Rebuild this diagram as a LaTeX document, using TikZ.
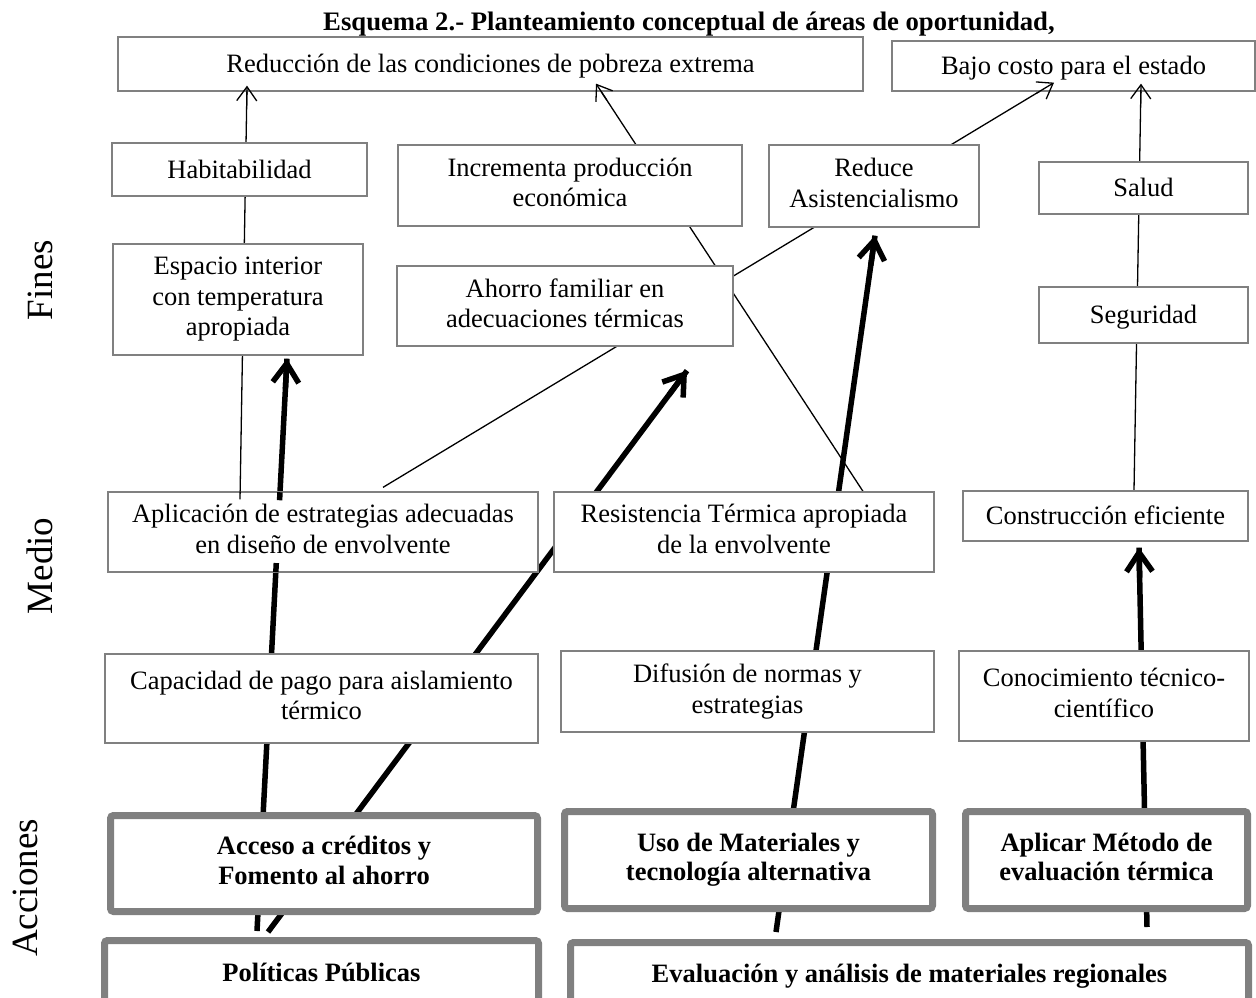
\documentclass[tikz,border=0pt]{standalone}
\usepackage{fontspec}
\setmainfont{Liberation Serif}
\usetikzlibrary{arrows.meta,calc}
\pgfdeclarelayer{bg}
\pgfsetlayers{bg,main}
\definecolor{bordergray}{RGB}{128,128,128}
\tikzset{
 strutted/.style={execute at begin node={\rule{0pt}{23pt}}, execute at end node={\rule[-6pt]{0pt}{6pt}}},
 mstrutted/.style={execute at begin node={\rule{0pt}{28pt}}, execute at end node={\rule[-6pt]{0pt}{6pt}}},
 fbox/.style={draw=bordergray, line width=1.3pt, fill=white, inner sep=0pt, align=center, strutted, font=\fontsize{26.5}{30.5}\selectfont},
 mbox/.style={fbox, mstrutted},
 kbox/.style={draw=bordergray, line width=7pt, fill=white, rounded corners=3pt, inner sep=0pt, align=center, strutted, font=\bfseries\fontsize{26.5}{29.5}\selectfont},
 thinline/.style={draw=black, line width=1.3pt},
 thinarrow/.style={thinline, -{Straight Barb[length=14pt,width=20pt]}},
 thickline/.style={draw=black, line width=5.5pt},
 thickarrow/.style={thickline, -{Straight Barb[length=19pt,width=26pt]}},
 sidelabel/.style={rotate=90, font=\fontsize{37}{44}\selectfont},
}
\begin{document}
\begin{tikzpicture}[x=1pt,y=-1pt]
\useasboundingbox (0,0) rectangle (1256,997);
\clip (0,0) rectangle (1256,997);
% title
\node[anchor=base, font=\bfseries\fontsize{26.7}{32}\selectfont] (title) at (689,30) {Esquema 2.- Planteamiento conceptual de áreas de oportunidad,};
% side labels
\node[sidelabel] (lfines) at (40,280) {Fines};
\node[sidelabel] (lmedio) at (40,566) {Medio};
\node[sidelabel] (lacc) at (25,888) {Acciones};
% fines
\node[fbox, minimum width=745pt, minimum height=54pt] (red) at (490.5,64) {Reducción de las condiciones de pobreza extrema};
\node[fbox, minimum width=363pt, minimum height=50pt] (bajo) at (1073.5,66) {Bajo costo para el estado};
\node[fbox, minimum width=255pt, minimum height=53pt] (hab) at (239.5,169.5) {Habitabilidad};
\node[mbox, minimum width=344pt, minimum height=81pt] (inc) at (570,185.5) {Incrementa producción\\económica};
\node[mbox, minimum width=210pt, minimum height=82pt] (asi) at (874,186) {Reduce\\Asistencialismo};
\node[fbox, minimum width=209pt, minimum height=52pt] (sal) at (1143.5,188) {Salud};
\node[mbox, minimum width=250pt, minimum height=111pt] (esp) at (238,299.5) {Espacio interior\\con temperatura\\apropiada};
\node[mbox, minimum width=336pt, minimum height=80pt] (aho) at (565,306) {Ahorro familiar en\\adecuaciones térmicas};
\node[fbox, minimum width=209pt, minimum height=56pt] (seg) at (1143.5,315) {Seguridad};
% medio
\node[mbox, minimum width=430pt, minimum height=80pt] (apl) at (323,532) {Aplicación de estrategias adecuadas\\en diseño de envolvente};
\node[mbox, minimum width=380pt, minimum height=80pt] (res) at (744,532) {Resistencia Térmica apropiada\\de la envolvente};
\node[fbox, minimum width=285pt, minimum height=50pt] (con) at (1105.5,516) {Construcción eficiente};
\node[mbox, minimum width=433pt, minimum height=89pt] (cap) at (321.5,698.5) {Capacidad de pago para aislamiento\\térmico};
\node[mbox, minimum width=373pt, minimum height=81pt] (dif) at (747.5,691.5) {Difusión de normas y\\estrategias};
\node[mbox, minimum width=290pt, minimum height=90pt] (cono) at (1104,696) {Conocimiento técnico-\\científico};
% acciones
\node[kbox, minimum width=427pt, minimum height=96pt] (acc) at (324,863.5) {Acceso a créditos y\\Fomento al ahorro};
\node[kbox, minimum width=368pt, minimum height=97pt] (uso) at (748.5,860) {Uso de Materiales y\\tecnología alternativa};
\node[kbox, minimum width=282pt, minimum height=97pt] (apm) at (1106.5,860) {Aplicar Método de\\evaluación térmica};
\node[kbox, minimum width=434pt, minimum height=65pt] (pol) at (321.5,973) {Políticas Públicas};
\node[kbox, minimum width=678pt, minimum height=63pt] (eva) at (909.5,974) {Evaluación y análisis de materiales regionales};
% connector end points, relative to the boxes
\coordinate (t1s) at ([xshift=-83pt,yshift=-8pt]apl.north);
\coordinate (t1e) at ([xshift=-243.5pt,yshift=6pt]red.south);
\coordinate (t2s) at ([xshift=60pt,yshift=4pt]apl.north);
\coordinate (t2e) at ([xshift=-19.5pt,yshift=9pt]bajo.south);
\coordinate (t3s) at ([xshift=119pt]res.north);
\coordinate (t3e) at ([xshift=105.5pt,yshift=8pt]red.south);
\coordinate (t4s) at ([xshift=28.5pt]con.north);
\coordinate (t4e) at ([xshift=67.5pt,yshift=8pt]bajo.south);
\coordinate (k1s) at ([xshift=-64.5pt,yshift=6pt]pol.north);
\coordinate (k1e) at ([xshift=49pt,yshift=-3pt]esp.south);
\coordinate (k2s) at ([xshift=-53.5pt,yshift=5pt]pol.north);
\coordinate (k2e) at ([xshift=122pt,yshift=-24pt]aho.south);
\coordinate (k3s) at ([xshift=-133.5pt,yshift=7pt]eva.north);
\coordinate (k3e) at ([xshift=1pt,yshift=-8pt]asi.south);
\coordinate (k4s) at ([xshift=237.5pt,yshift=12pt]eva.north);
\coordinate (k4e) at ([xshift=33.5pt,yshift=-6pt]con.south);
% connectors behind the boxes
\begin{pgfonlayer}{bg}
\draw[thinline] (t1s) -- (t1e);
\draw[thinline] (t2s) -- (t2e);
\draw[thinline] (t3s) -- (t3e);
\draw[thinline] (t4s) -- (t4e);
\draw[thickline] (k1s) -- (k1e);
\draw[thickline] (k2s) -- (k2e);
\draw[thickline] (k3s) -- (k3e);
\draw[thickline] (k4s) -- (k4e);
\end{pgfonlayer}
% arrow heads on top
\draw[thinarrow] ($(t1e)!20pt!(t1s)$) -- (t1e);
\draw[thinarrow] ($(t2e)!20pt!(t2s)$) -- (t2e);
\draw[thinarrow] ($(t3e)!20pt!(t3s)$) -- (t3e);
\draw[thinarrow] ($(t4e)!20pt!(t4s)$) -- (t4e);
\draw[thickarrow] ($(k1e)!30pt!(k1s)$) -- (k1e);
\draw[thickarrow] ($(k2e)!30pt!(k2s)$) -- (k2e);
\draw[thickarrow] ($(k3e)!30pt!(k3s)$) -- (k3e);
\draw[thickarrow] ($(k4e)!30pt!(k4s)$) -- (k4e);
% short pieces that show inside the top and bottom edge of the Aplicacion box
\draw[thinline] (t1s) -- ($(t1s)!8pt!(t1e)$);
\draw[thickline] ($(k1s)!0.6272!(k1e)$) -- ($(k1s)!0.6429!(k1e)$);
\draw[thickline] ($(k1s)!0.7526!(k1e)$) -- ($(k1s)!0.7666!(k1e)$);
\end{tikzpicture}
\end{document}
